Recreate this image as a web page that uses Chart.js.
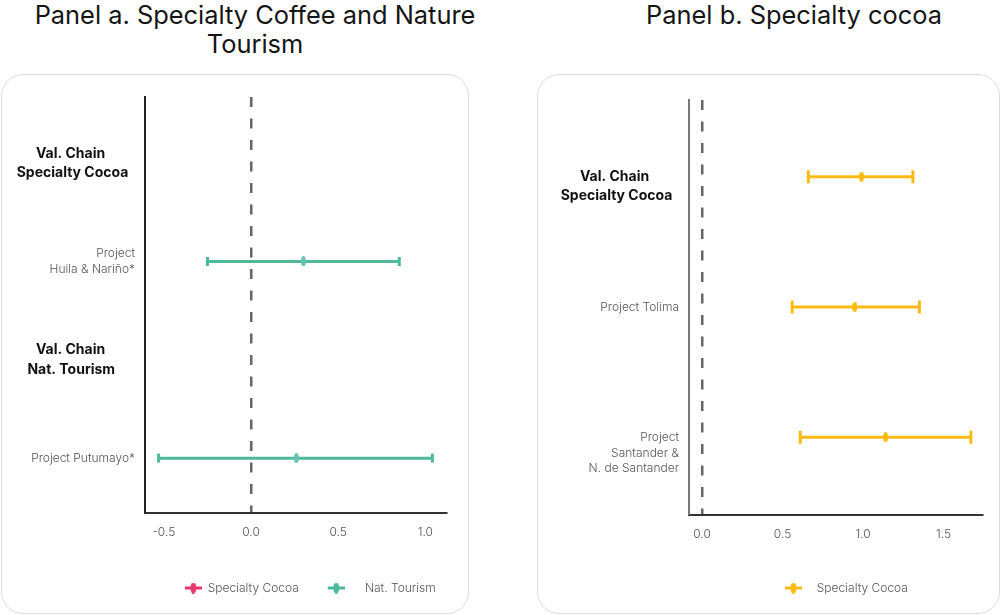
<!DOCTYPE html>
<html lang="en">
<head>
<meta charset="utf-8">
<title>Specialty coffee, nature tourism and specialty cocoa</title>
<script src="https://cdn.jsdelivr.net/npm/chart.js@4.4.1/dist/chart.umd.min.js"></script>
<style>
  html, body { margin: 0; padding: 0; background: #fff; }
  body { position: relative; width: 1001px; height: 615px; overflow: hidden; font-family: Inter, "Open Sans", sans-serif; }
  .panel-title { position: absolute; top: 0; margin: 0; text-align: center; font-size: 25.4px; line-height: 29px; font-weight: 400; color: #151515; }
  .card { position: absolute; top: 74px; height: 540px; box-sizing: border-box; border: 1px solid #dcdcdc; border-radius: 22px; background: #fff; }
  canvas { position: absolute; top: 73px; }
</style>
</head>
<body>
<h2 class="panel-title" style="left:0; width:510px;">Panel a. Specialty Coffee and Nature<br>Tourism</h2>
<h2 class="panel-title" style="left:594px; width:400px;">Panel b. Specialty cocoa</h2>
<div class="card" style="left:1px; width:468px;"></div>
<div class="card" style="left:537px; width:463px;"></div>
<canvas id="panelA" width="469" height="541" style="left:0"></canvas>
<canvas id="panelB" width="463" height="541" style="left:537px"></canvas>
<script>
// ---- Panel a: specialty coffee and nature tourism ----
const rowLabelsA = [["Val. Chain", "Specialty Cocoa"], ["Project", "Huila & Nariño*"], ["Val. Chain", "Nat. Tourism"], ["Project Putumayo*"]];
const headerRowsA = [true, false, true, false];
const seriesNamesA = ["Specialty Cocoa", "Nat. Tourism"];
// Specialty Cocoa has no estimate in this panel
const cocoaRowsA = [];
const cocoaEstA = [];
const cocoaLowA = [];
const cocoaHighA = [];
// Nat. Tourism: point estimate and interval bounds per row
const tourismRowsA = [1, 3];
const tourismEstA = [0.30, 0.26];
const tourismLowA = [-0.25, -0.53];
const tourismHighA = [0.85, 1.04];
const xTicksA = [-0.5, 0, 0.5, 1.0];

// ---- Panel b: specialty cocoa ----
const rowLabelsB = [["Val. Chain", "Specialty Cocoa"], ["Project Tolima"], ["Project", "Santander &", "N. de Santander"]];
const headerRowsB = [true, false, false];
const seriesNamesB = ["Specialty Cocoa"];
const cocoaRowsB = [0, 1, 2];
const cocoaEstB = [0.99, 0.95, 1.14];
const cocoaLowB = [0.66, 0.56, 0.61];
const cocoaHighB = [1.31, 1.35, 1.67];
const xTicksB = [0, 0.5, 1.0, 1.5];

// ---- styling ----
const FONT = 'Inter, "Open Sans", sans-serif';
const PINK = '#e8366f';
const TEAL = '#4cb99b';
const GOLD = '#fbbb14';
const labelFontRegular = { family: FONT, size: 12, weight: '300', lineHeight: 1.3 };
const labelFontBold = { family: FONT, size: 14, weight: '700', lineHeight: 1.36 };

const measureCtx = document.createElement('canvas').getContext('2d');
function cssFont(f) { return f.weight + ' ' + f.size + 'px ' + f.family; }
function textWidth(t, f) { measureCtx.font = cssFont(f); return measureCtx.measureText(t).width; }

// Right-aligned tick text; header lines are padded so that they read as a centred block
function headerLines(lines, f, inset) {
  return lines.map(line => {
    const w = textWidth(line, f);
    const target = inset + w / 2;
    let s = line;
    while (textWidth(s + ' ', f) <= target + 1) s += ' ';
    return s;
  });
}

function markerCanvas(color, w, h) {
  const c = document.createElement('canvas');
  c.width = w; c.height = h;
  const g = c.getContext('2d');
  g.fillStyle = color;
  g.beginPath();
  g.ellipse(w / 2, h / 2, w / 2, h / 2, 0, 0, Math.PI * 2);
  g.fill();
  return c;
}

// Legend glyph: short whisker with the estimate marker; leftPad shifts it inside its box
function legendGlyph(color, leftPad) {
  const w = 17, h = 11;
  const c = document.createElement('canvas');
  c.width = w + Math.max(leftPad, 0); c.height = h;
  const g = c.getContext('2d');
  const x0 = Math.max(leftPad, 0);
  g.fillStyle = color;
  g.fillRect(x0, (h - 3) / 2, w, 3);
  g.beginPath();
  g.ellipse(x0 + w / 2, h / 2, 3, 5.5, 0, 0, Math.PI * 2);
  g.fill();
  return c;
}

function whiskers(rows, low, est, high) {
  const pts = [];
  rows.forEach((r, i) => {
    pts.push({ x: low[i], y: r }, { x: est[i], y: r }, { x: high[i], y: r }, { x: high[i], y: null });
  });
  return pts;
}

function intervalDataset(label, color, markerColor, data, capRadius) {
  const marker = markerCanvas(markerColor, 5, 10);
  return {
    label, data,
    showLine: true, spanGaps: false,
    borderColor: color, backgroundColor: color, borderWidth: 3,
    pointStyle: c => (c.dataIndex % 4 === 1 ? marker : 'line'),
    pointRotation: c => (c.dataIndex % 4 === 1 ? 0 : 90),
    pointRadius: c => (c.dataIndex % 4 === 1 ? 5 : capRadius),
    pointBorderWidth: 3,
    pointBorderColor: color,
    pointBackgroundColor: color,
    clip: false
  };
}

function isHeader(cfg, c) {
  return !!(c && c.tick && cfg.headerRows[Math.round(c.tick.value)]);
}

function buildChart(canvasId, cfg) {
  const headerFont = labelFontBold;
  return new Chart(document.getElementById(canvasId), {
    type: 'scatter',
    data: { datasets: cfg.datasets },
    options: {
      responsive: false,
      animation: false,
      events: [],
      layout: { padding: cfg.padding },
      plugins: {
        tooltip: { enabled: false },
        legend: {
          position: 'bottom',
          align: cfg.legendAlign,
          fullSize: false,
          labels: {
            usePointStyle: true,
            pointStyleWidth: cfg.legendBoxWidth,
            padding: cfg.legendPadding,
            color: '#555',
            font: { family: FONT, size: 12, weight: '300' },
            generateLabels: chart => chart.data.datasets.map((ds, i) => ({
              text: cfg.legendPrefix[i] + ds.label,
              fillStyle: ds.borderColor,
              strokeStyle: ds.borderColor,
              lineWidth: 0,
              pointStyle: legendGlyph(ds.borderColor, cfg.legendGlyphPad[i]),
              hidden: false,
              datasetIndex: i,
              fontColor: '#555'
            }))
          }
        }
      },
      scales: {
        x: {
          type: 'linear',
          min: cfg.xMin, max: cfg.xMax,
          afterBuildTicks: s => { s.ticks = cfg.xTicks.map(v => ({ value: v })); },
          afterFit: s => { s.height = cfg.xAxisHeight; s.paddingLeft = 0; s.paddingRight = 0; },
          ticks: {
            padding: 12,
            color: '#555',
            font: { family: FONT, size: 12, weight: '300' },
            callback: v => Number(v).toFixed(1)
          },
          grid: {
            drawTicks: false,
            lineWidth: 2.5,
            color: c => (c && c.tick && c.tick.value === 0 ? '#666' : 'rgba(0,0,0,0)')
          },
          border: { color: '#333', width: 2, dash: [10, 11.5] }
        },
        y: {
          type: 'linear',
          reverse: true,
          min: cfg.yMin, max: cfg.yMax,
          afterBuildTicks: s => { s.ticks = cfg.rowLabels.map((_, i) => ({ value: i })); },
          afterFit: s => { s.width = cfg.yAxisWidth; s.paddingTop = 0; s.paddingBottom = 0; },
          ticks: {
            padding: 10,
            autoSkip: false,
            color: c => (isHeader(cfg, c) ? '#111' : '#555'),
            font: c => (isHeader(cfg, c) ? headerFont : labelFontRegular),
            callback: v => {
              const i = Math.round(v);
              const lines = cfg.headerRows[i] ? headerLines(cfg.rowLabels[i], headerFont, cfg.headerInset) : cfg.rowLabels[i].slice();
              const lead = cfg.labelLead[i] || 0;
              return Array(lead).fill('').concat(lines);
            }
          },
          grid: { display: false, drawTicks: false },
          border: { color: cfg.yBorderColor, width: 2 }
        }
      }
    }
  });
}

buildChart('panelA', {
  datasets: [
    intervalDataset(seriesNamesA[0], PINK, PINK, whiskers(cocoaRowsA, cocoaLowA, cocoaEstA, cocoaHighA), 4.5),
    intervalDataset(seriesNamesA[1], TEAL, '#66c2b2', whiskers(tourismRowsA, tourismLowA, tourismEstA, tourismHighA), 4.5)
  ],
  rowLabels: rowLabelsA, headerRows: headerRowsA, labelLead: [0, 0, 0, 0],
  xTicks: xTicksA, xMin: -0.608, xMax: 1.122,
  yMin: -0.673, yMax: 3.555,
  padding: { left: 0, top: 24, right: 22.3, bottom: 10 },
  yAxisWidth: 145, xAxisHeight: 65.3, headerInset: 63.5,
  yBorderColor: '#222',
  legendAlign: 'start', legendBoxWidth: 52.7, legendPadding: 4,
  legendPrefix: ['', ' '], legendGlyphPad: [36, 14]
});

buildChart('panelB', {
  datasets: [
    intervalDataset(seriesNamesB[0], GOLD, GOLD, whiskers(cocoaRowsB, cocoaLowB, cocoaEstB, cocoaHighB), 6.5)
  ],
  rowLabels: rowLabelsB, headerRows: headerRowsB, labelLead: [1, 0, 2],
  xTicks: xTicksB, xMin: -0.081, xMax: 1.739,
  yMin: -0.589, yMax: 2.594,
  padding: { left: 0, top: 27, right: 18, bottom: 10 },
  yAxisWidth: 152, xAxisHeight: 57.3, headerInset: 63.5,
  yBorderColor: '#777',
  legendAlign: 'center', legendBoxWidth: 47.7, legendPadding: 10,
  legendPrefix: [''], legendGlyphPad: [13]
});
</script>
</body>
</html>
